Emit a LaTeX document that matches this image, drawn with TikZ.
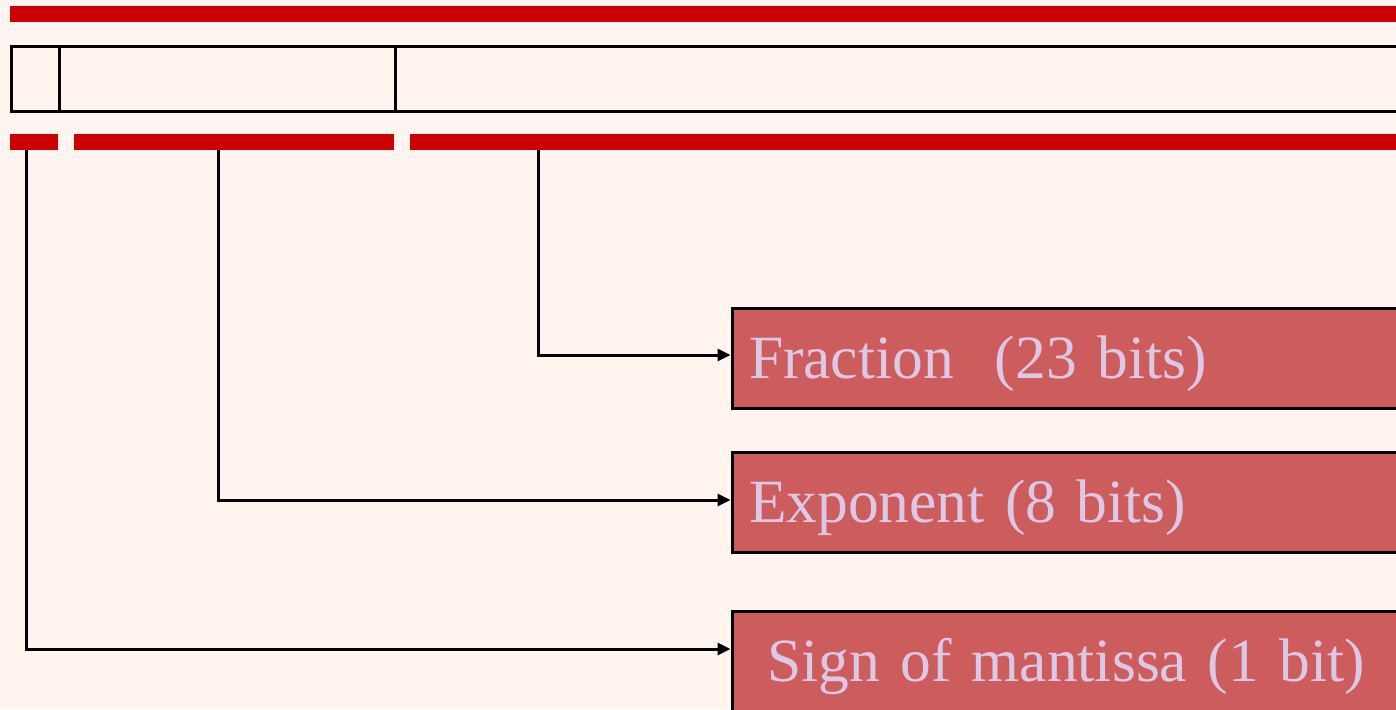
\documentclass[tikz,border=0pt]{standalone}
\usepackage{fontspec}
\setmainfont{Liberation Serif}
\usetikzlibrary{arrows.meta}
\definecolor{bgpink}{HTML}{FFF4EE}
\definecolor{barred}{HTML}{CC0000}
\definecolor{boxred}{HTML}{CD5C5C}
\definecolor{lilac}{HTML}{DCC8E6}
\begin{document}
\begin{tikzpicture}[x=1pt, y=-1pt, line join=miter, >={Triangle[length=13pt,width=12pt]}]
\tikzset{bar/.style={fill=barred, inner sep=0pt, minimum height=16pt, anchor=north west},
  fieldbox/.style={draw, line width=3pt, inner sep=0pt, minimum height=64.5pt, anchor=north west},
  tagbox/.style={draw, line width=3pt, fill=boxred, text=lilac, anchor=north west,
    minimum height=100pt, text width=690pt, inner xsep=17pt, inner ysep=0pt, align=left,
    text height=41pt, text depth=0pt, font=\fontsize{61.5}{68}\selectfont}}
\fill[bgpink] (0,0) rectangle (1396,709);
\useasboundingbox (0,0) rectangle (1396,709);
\clip (0,0) rectangle (1396,709);
\node[bar, minimum width=1440pt] (topbar) at (10,6) {};
\node[fieldbox, minimum width=48.5pt] (sgnfld) at (9.5,45.5) {};
\node[fieldbox, minimum width=336pt] (expfld) at (58,45.5) {};
\node[fieldbox, minimum width=1100pt] (fracfld) at (394,45.5) {};
\node[bar, minimum width=48pt] (sgnbar) at (10,134) {};
\node[bar, minimum width=320pt] (expbar) at (74,134) {};
\node[bar, minimum width=1040pt] (fracbar) at (410,134) {};
\node[tagbox] (frac) at (730.5,306.5) {Fraction\ \ (23 bits)};
\node[tagbox] (expo) at (730.5,450.5) {Exponent (8 bits)};
\node[tagbox] (sign) at (730.5,609.5) {\hspace*{18pt}Sign of mantissa (1 bit)};
\draw[line width=3pt, ->] ([xshift=128pt]fracbar.south west) |- ([yshift=3pt]frac.west);
\draw[line width=3pt, ->] ([xshift=144pt]expbar.south west) |- ([yshift=2pt]expo.west);
\draw[line width=3pt, ->] ([xshift=16pt]sgnbar.south west) |- ([yshift=12pt]sign.west);
\end{tikzpicture}
\end{document}
